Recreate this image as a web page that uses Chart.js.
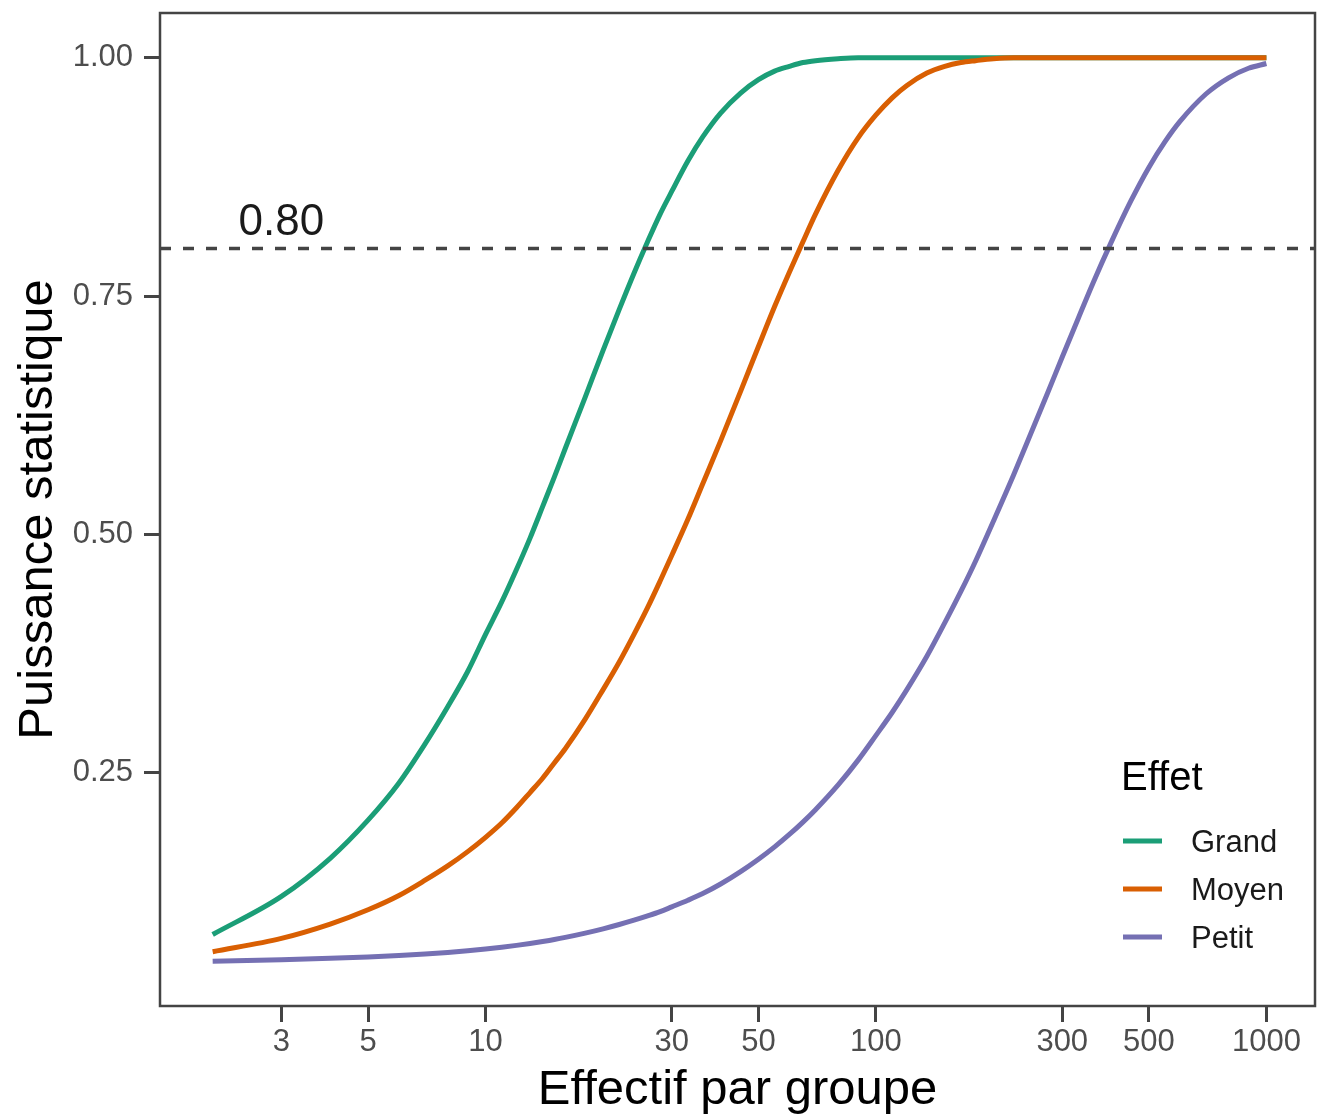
<!DOCTYPE html>
<html lang="fr">
<head>
<meta charset="utf-8">
<title>Puissance statistique</title>
<script src="https://cdn.jsdelivr.net/npm/chart.js@4.4.1/dist/chart.umd.min.js"></script>
<style>
  html, body { margin: 0; padding: 0; background: #fff; }
  #wrap { width: 1317px; height: 1114px; }
</style>
</head>
<body>
<div id="wrap"><canvas id="puissance-canvas"></canvas></div>
<script>
// effectif par groupe (échelle log)
const EFFECTIF = [2,3,4,5,6,7,8,9,10,11,12,13,14,15,16,18,20,22,24,26,28,30,33,36,40,45,50,55,60,65,70,
  80,90,100,110,120,135,150,165,180,200,225,250,275,300,330,360,400,450,500,550,600,700,800,900,1000];

// puissance par taille d'effet
const GRAND = [0.080,0.120,0.160,0.200,0.239,0.280,0.319,0.356,0.395,0.429,0.463,0.496,0.529,0.560,0.590,
  0.644,0.693,0.736,0.774,0.807,0.836,0.860,0.892,0.917,0.942,0.963,0.977,0.986,0.991,0.995,0.997,
  0.999,1.000,1.000,1.000,1.000,1.000,1.000,1.000,1.000,1.000,1.000,1.000,1.000,1.000,1.000,1.000,
  1.000,1.000,1.000,1.000,1.000,1.000,1.000,1.000,1.000];
const MOYEN = [0.062,0.076,0.091,0.106,0.121,0.137,0.152,0.167,0.182,0.197,0.213,0.229,0.244,0.260,0.275,
  0.306,0.337,0.366,0.395,0.423,0.451,0.478,0.516,0.553,0.598,0.650,0.697,0.739,0.775,0.807,0.836,
  0.882,0.916,0.940,0.958,0.971,0.984,0.991,0.995,0.997,0.999,1.000,1.000,1.000,1.000,1.000,1.000,
  1.000,1.000,1.000,1.000,1.000,1.000,1.000,1.000,1.000];
const PETIT = [0.0520,0.0535,0.0550,0.0565,0.0580,0.0596,0.0612,0.0629,0.0647,0.0666,0.0686,0.0706,0.0727,0.0748,0.0770,
  0.0815,0.0860,0.0905,0.0950,0.0995,0.104,0.109,0.116,0.123,0.133,0.146,0.159,0.172,0.185,0.198,0.211,
  0.237,0.263,0.289,0.313,0.337,0.372,0.407,0.440,0.472,0.514,0.562,0.607,0.648,0.686,0.727,0.764,
  0.806,0.850,0.885,0.912,0.933,0.962,0.979,0.989,0.994];

const EFFETS   = ['Grand', 'Moyen', 'Petit'];
const COULEURS = ['#1B9E77', '#D95F02', '#7570B3'];
const X_TICKS  = [3, 5, 10, 30, 50, 100, 300, 500, 1000];
const Y_TICKS  = [0.25, 0.50, 0.75, 1.00];
const SEUIL    = 0.80;
const X_MIN = 1.466, X_MAX = 1332;
const Y_MIN = 0.005, Y_MAX = 1.047;

const FONT = '"Liberation Sans", Arial, Helvetica, sans-serif';
const INK  = '#444444';

const toPts = ys => EFFECTIF.map((n, i) => ({ x: n, y: ys[i] }));

const courbes = [GRAND, MOYEN, PETIT].map((ys, i) => ({
  label: EFFETS[i],
  data: toPts(ys),
  borderColor: COULEURS[i],
  backgroundColor: COULEURS[i],
  borderWidth: 5,
  pointRadius: 0,
  cubicInterpolationMode: 'monotone',
  fill: false,
  order: 3 - i
}));

const seuil = {
  label: 'seuil',
  data: [{ x: X_MIN, y: SEUIL }, { x: X_MAX, y: SEUIL }],
  borderColor: INK,
  borderWidth: 3.5,
  borderDash: [11, 12],
  pointRadius: 0,
  fill: false,
  order: 0
};

// cadre du panneau, annotation du seuil et légende
const habillage = {
  id: 'habillage',
  afterDraw(chart) {
    const { ctx, chartArea: a, scales: { x, y } } = chart;
    ctx.save();
    ctx.strokeStyle = INK;
    ctx.lineWidth = 2.5;
    ctx.strokeRect(a.left, a.top, a.right - a.left, a.bottom - a.top);

    ctx.fillStyle = '#1a1a1a';
    ctx.font = `44px ${FONT}`;
    ctx.textAlign = 'center';
    ctx.textBaseline = 'alphabetic';
    ctx.fillText(SEUIL.toFixed(2), x.getPixelForValue(3), y.getPixelForValue(SEUIL) - 13);

    const lx = 1121, ly = 790;
    ctx.textAlign = 'left';
    ctx.font = `40px ${FONT}`;
    ctx.fillStyle = '#000';
    ctx.fillText('Effet', lx, ly);
    ctx.font = `31px ${FONT}`;
    chart.data.datasets.filter(d => EFFETS.includes(d.label)).forEach((d, i) => {
      const yy = 841 + i * 48;
      ctx.strokeStyle = d.borderColor;
      ctx.lineWidth = 5;
      ctx.beginPath();
      ctx.moveTo(lx + 2, yy);
      ctx.lineTo(lx + 41, yy);
      ctx.stroke();
      ctx.fillStyle = '#1a1a1a';
      ctx.fillText(d.label, lx + 70, yy + 11);
    });
    ctx.restore();
  }
};

new Chart(document.getElementById('puissance-canvas'), {
  type: 'line',
  data: { datasets: [...courbes, seuil] },
  options: {
    responsive: true,
    maintainAspectRatio: false,
    animation: false,
    layout: { padding: { top: 13, right: 2, left: 0, bottom: 0 } },
    plugins: { legend: { display: false }, tooltip: { enabled: false } },
    scales: {
      x: {
        type: 'logarithmic',
        min: X_MIN, max: X_MAX,
        afterBuildTicks: s => { s.ticks = X_TICKS.map(v => ({ value: v })); },
        afterFit: s => { s.height = 108; s.paddingLeft = 0; s.paddingRight = 0; },
        border: { display: false },
        grid: { drawOnChartArea: false, drawTicks: true, tickLength: 16, tickWidth: 3, tickColor: INK },
        ticks: {
          autoSkip: false, maxRotation: 0, padding: 2,
          color: '#4d4d4d', font: { family: FONT, size: 31 },
          callback: v => String(v)
        },
        title: {
          display: true, text: 'Effectif par groupe', color: '#000',
          font: { family: FONT, size: 49, lineHeight: 1.0 }, padding: { top: 0, bottom: -1 }
        }
      },
      y: {
        type: 'linear',
        min: Y_MIN, max: Y_MAX,
        afterBuildTicks: s => { s.ticks = Y_TICKS.map(v => ({ value: v })); },
        afterFit: s => { s.width = 160; s.paddingTop = 0; s.paddingBottom = 0; },
        border: { display: false },
        grid: { drawOnChartArea: false, drawTicks: true, tickLength: 16, tickWidth: 3, tickColor: INK },
        ticks: {
          padding: 11,
          color: '#4d4d4d', font: { family: FONT, size: 31 },
          callback: v => Number(v).toFixed(2)
        },
        title: {
          display: true, text: 'Puissance statistique', color: '#000',
          font: { family: FONT, size: 49, lineHeight: 1.0 }, padding: { top: 14, bottom: 0 }
        }
      }
    }
  },
  plugins: [habillage]
});
</script>
</body>
</html>
